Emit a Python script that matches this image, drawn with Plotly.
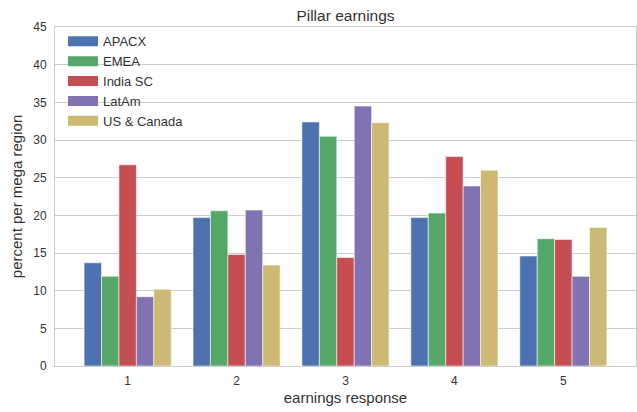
import plotly.graph_objects as go

categories = [1, 2, 3, 4, 5]
tick_labels = ["1", "2", "3", "4", "5"]
series_names = ["APACX", "EMEA", "India SC", "LatAm", "US & Canada"]
apacx = [13.7, 19.7, 32.4, 19.7, 14.6]
emea = [11.9, 20.6, 30.5, 20.3, 16.9]
india_sc = [26.7, 14.8, 14.4, 27.8, 16.8]
latam = [9.2, 20.7, 34.5, 23.9, 11.9]
us_canada = [10.2, 13.4, 32.3, 26.0, 18.4]
colors = ["#4C72B0", "#55A868", "#C44E52", "#8172B2", "#CCB974"]

series_values = [apacx, emea, india_sc, latam, us_canada]

fig = go.Figure()
for name, vals, col in zip(series_names, series_values, colors):
    fig.add_trace(go.Bar(
        x=categories, y=vals, name=name, showlegend=False,
        marker=dict(color=col, line=dict(color="rgba(255,255,255,0.7)", width=0.8)),
    ))
# legend entries drawn as wide patches
for name, col in zip(series_names, colors):
    fig.add_trace(go.Scatter(
        x=[None], y=[None], mode="lines", name=name,
        line=dict(color=col, width=10),
    ))

font = "Liberation Sans, Arial, sans-serif"
text_col = "#333333"
grid_col = "#cccccc"

fig.update_layout(
    width=637, height=412,
    margin=dict(l=55, r=1, t=27, b=46),
    paper_bgcolor="white", plot_bgcolor="white",
    barmode="group", bargap=0.2, bargroupgap=0,
    font=dict(family=font, color=text_col, size=12),
    title=dict(text="Pillar earnings", x=0.5, xref="paper", xanchor="center",
               y=0.963, yref="container", yanchor="middle",
               font=dict(size=15.5, color=text_col)),
    legend=dict(x=0.0138, y=1.002, xanchor="left", yanchor="top",
                bgcolor="rgba(0,0,0,0)", font=dict(size=13, color=text_col),
                itemwidth=30, tracegroupgap=0),
    xaxis=dict(range=[0.333, 5.667], tickvals=categories, ticktext=tick_labels,
               showgrid=False, zeroline=False, showline=True, mirror=True,
               linecolor=grid_col, linewidth=1, ticks="", automargin=False,
               ticklabelstandoff=4,
               title=dict(text="earnings response", font=dict(size=15, color=text_col), standoff=5),
               tickfont=dict(size=12, color=text_col)),
    yaxis=dict(range=[0, 45], tickvals=list(range(0, 46, 5)),
               showgrid=True, gridcolor=grid_col, gridwidth=1, zeroline=False,
               showline=True, mirror=True, linecolor=grid_col, linewidth=1, ticks="",
               automargin=False, ticklabelstandoff=5,
               title=dict(text="percent per mega region", font=dict(size=15, color=text_col), standoff=6),
               tickfont=dict(size=12, color=text_col)),
)

fig.write_html("out.html", config={"displayModeBar": False},
               post_script="document.body.style.margin='0';")
